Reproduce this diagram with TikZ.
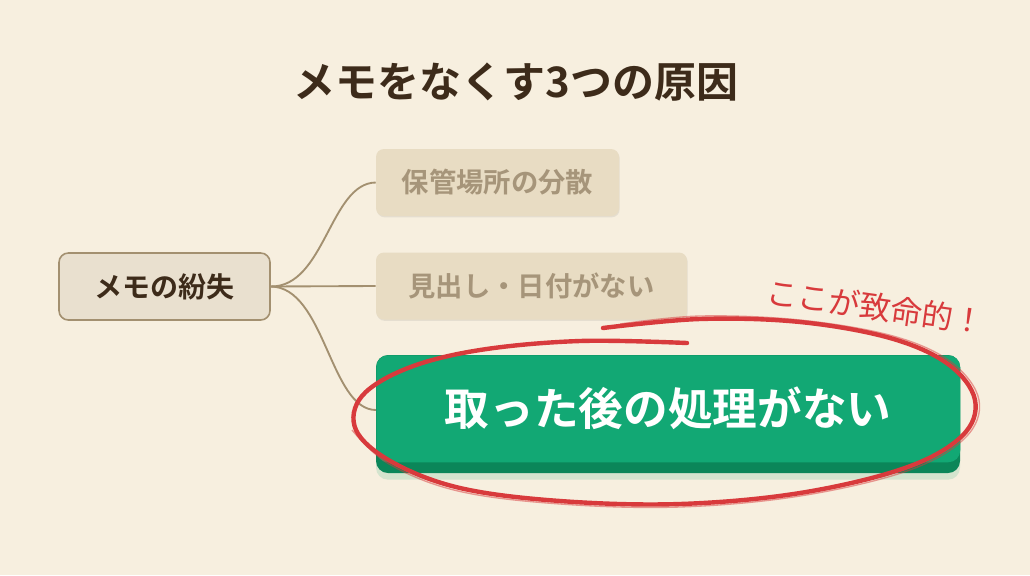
\documentclass[tikz,border=0pt]{standalone}
\usepackage{fontspec}
\setmainfont{Noto Sans CJK JP}[BoldFont={Noto Sans CJK JP Bold}]
\usepackage{xcolor}
\usepackage{tikz}
\usetikzlibrary{shapes,arrows,positioning,calc,shadows}

\definecolor{paper}{HTML}{F7EFDF}
\definecolor{ink}{HTML}{3D2B1A}
\definecolor{twig}{HTML}{A39070}
\definecolor{rootfill}{HTML}{E9E0CF}
\definecolor{fadefill}{HTML}{E8DCC3}
\definecolor{fadetext}{HTML}{A6957A}
\definecolor{keygreen}{HTML}{12A874}
\definecolor{keydark}{HTML}{0B8659}
\definecolor{pen}{HTML}{D83A3C}

\begin{document}
\begin{tikzpicture}[
      x=0.75pt,y=-0.75pt,
      rootbox/.style={
        rectangle,
        draw=twig,
        line width=1.2pt,
        fill=rootfill,
        text=ink,
        minimum height=50.25pt,
        rounded corners=7pt,
        font=\bfseries\fontsize{21}{25}\selectfont
      },
      causebox/.style={
        rectangle,
        fill=fadefill,
        text=fadetext,
        minimum height=50.25pt,
        rounded corners=6pt,
        font=\bfseries\fontsize{20.5}{24}\selectfont,
        drop shadow={shadow xshift=0.5pt, shadow yshift=-1pt, opacity=0.15}
      },
      keybox/.style={
        rectangle,
        fill=keygreen,
        text=white,
        minimum width=438pt,
        minimum height=80.25pt,
        rounded corners=9pt,
        font=\bfseries\fontsize{33.5}{38}\selectfont
      },
      link/.style={draw=twig,line width=1.4pt},
      redpen/.style={draw=pen,line width=3.3pt,line cap=round,line join=round}
    ]
    % Paper
    \fill[paper] (0,0) rectangle (1030,575);
    \useasboundingbox (0,0) rectangle (1030,575);

    % Title
    \node[text=ink,font=\bfseries\fontsize{31.5}{36}\selectfont] (title) at (516,82) {メモをなくす3つの原因};

    % Root and causes
    \node[rootbox,minimum width=158.25pt] (loss) at (164.5,286.5) {メモの紛失};
    \node[causebox,minimum width=182.25pt] (spread) at (497.5,182.5) {保管場所の分散};
    \node[causebox,minimum width=233.25pt] (nolabel) at (531.5,286) {見出し・日付がない};

    % Key cause (raised green button)
    \coordinate (keynw) at (376,355);
    \coordinate (keyse) at (960,473);
    \draw[link] (loss.east) .. controls (325,287) and (330,183) .. (spread.west);
    \draw[link] (loss.east) -- (nolabel.west);
    \draw[link] (loss.east) .. controls (325,287) and (330,410) .. (376,410);
    \fill[keydark,rounded corners=9pt,
          drop shadow={shadow xshift=0pt, shadow yshift=-5pt, opacity=0.25, fill=keygreen!60!paper}]
      (keynw) rectangle (keyse);
    \node[keybox,anchor=north west] (nopost) at (keynw) {取った後の処理がない};

    % Red circle
    \draw[redpen] plot[smooth,tension=0.6] coordinates {
      (603,328) (700,319) (800,322) (890,338) (948,364) (975,400) (962,436)
      (905,468) (800,493) (680,504) (560,501) (460,488) (392,462) (356,430)
      (362,396) (408,368) (480,350) (580,341) (687,343)};
    \draw[pen,line width=1pt,opacity=0.5] plot[smooth,tension=0.6] coordinates {
      (620,324) (700,316) (800,320) (893,336) (951,362) (979,400) (965,438)
      (907,471) (800,496) (680,507) (560,504) (458,491) (389,464) (352,430)};

    % Note
    \node[text=pen,rotate=-8,font=\fontsize{23.5}{28}\selectfont] (note) at (876,307) {ここが致命的！};
  \end{tikzpicture}
\end{document}
